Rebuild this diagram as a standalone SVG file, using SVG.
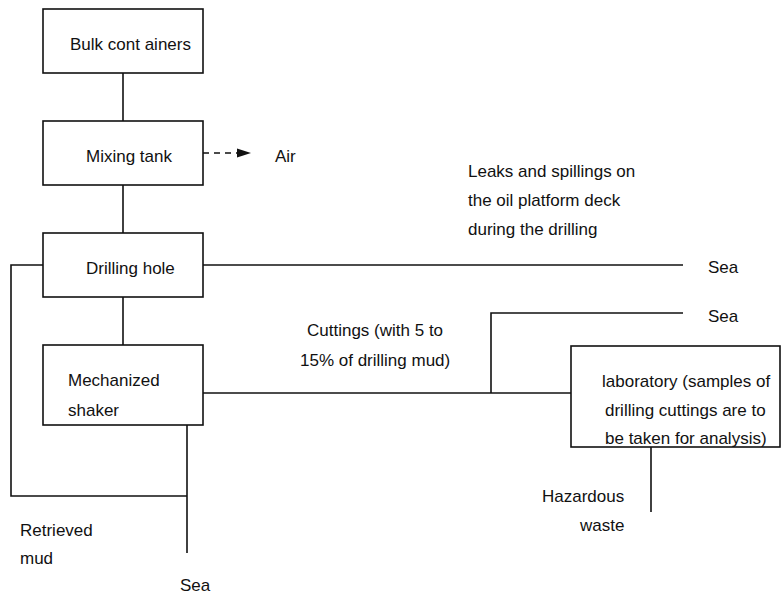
<svg xmlns="http://www.w3.org/2000/svg" width="783" height="595" viewBox="0 0 783 595">
<style>
text{font-family:"Liberation Sans",Arial,sans-serif;font-size:17px;fill:#111}
.box{fill:#fff;stroke:#111;stroke-width:1.6}
.ln{fill:none;stroke:#111;stroke-width:1.6}
.dash{fill:none;stroke:#111;stroke-width:1.6;stroke-dasharray:6,5}
</style>
<rect width="783" height="595" fill="#fff"/>
<g id="connectors">
<line class="ln" x1="123" y1="73" x2="123" y2="121"/>
<line class="ln" x1="123" y1="185" x2="123" y2="233"/>
<line class="ln" x1="123" y1="297" x2="123" y2="345"/>
<line class="dash" x1="203" y1="153" x2="238" y2="153"/>
<polygon points="237,148.5 251,153 237,157.5" fill="#111"/>
<line class="ln" x1="203" y1="265" x2="683" y2="265"/>
<polyline class="ln" points="43,265 11,265 11,496 187,496"/>
<line class="ln" x1="187" y1="425" x2="187" y2="553"/>
<line class="ln" x1="203" y1="393" x2="571" y2="393"/>
<polyline class="ln" points="491,393 491,313 683,313"/>
<line class="ln" x1="651" y1="447" x2="651" y2="512"/>
</g>
<g id="bulk"><rect class="box" x="43" y="9" width="160" height="64"/><text x="70" y="50">Bulk cont ainers</text></g>
<g id="mixing"><rect class="box" x="43" y="121" width="160" height="64"/><text x="86" y="162">Mixing tank</text></g>
<g id="drilling"><rect class="box" x="43" y="233" width="160" height="64"/><text x="86" y="274">Drilling hole</text></g>
<g id="shaker"><rect class="box" x="43" y="345" width="160" height="80"/><text x="68" y="386">Mechanized</text><text x="68" y="416">shaker</text></g>
<g id="lab"><rect class="box" x="571" y="346" width="209" height="101"/><text x="602" y="387">laboratory (samples of</text><text x="605" y="416">drilling cuttings are to</text><text x="605" y="444">be taken for analysis)</text></g>
<g id="labels">
<text x="275" y="162">Air</text>
<text x="468" y="177">Leaks and spillings on</text>
<text x="468" y="206">the oil platform deck</text>
<text x="468" y="235">during the drilling</text>
<text x="708" y="273">Sea</text>
<text x="708" y="322">Sea</text>
<text x="307" y="336">Cuttings (with 5 to</text>
<text x="300" y="366">15% of drilling mud)</text>
<text x="542" y="502">Hazardous</text>
<text x="580" y="531">waste</text>
<text x="20" y="536">Retrieved</text>
<text x="20" y="564">mud</text>
<text x="180" y="591">Sea</text>
</g>
</svg>
